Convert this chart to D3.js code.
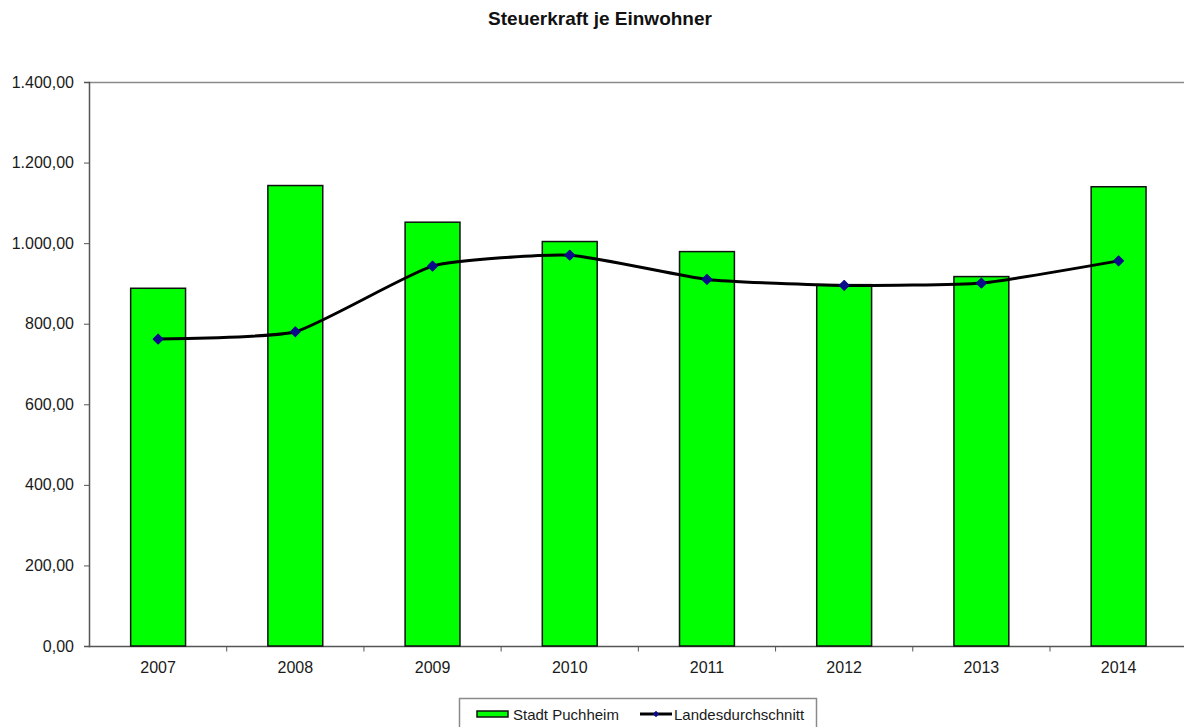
<!DOCTYPE html>
<html lang="de">
<head>
<meta charset="utf-8">
<title>Steuerkraft je Einwohner</title>
<script src="https://cdn.jsdelivr.net/npm/d3@7"></script>
<style>
  html, body { margin: 0; padding: 0; background: #ffffff; }
  svg { display: block; font-family: "Liberation Sans", Arial, sans-serif; }
</style>
</head>
<body>
<svg id="chart" width="1184" height="727"></svg>
<script>
// Steuerkraft je Einwohner (EUR), Stadt Puchheim vs. Landesdurchschnitt
const years = ["2007", "2008", "2009", "2010", "2011", "2012", "2013", "2014"];
const stadtPuchheim = [888, 1143, 1052, 1004, 979, 897, 917, 1140];
const landesdurchschnitt = [762, 780, 943, 970, 910, 895, 901, 956];
const yTicks = [0, 200, 400, 600, 800, 1000, 1200, 1400];

const svg = d3.select("#chart");

const plot = { left: 89.5, right: 1187.2, top: 82, bottom: 646 };

const x = d3.scaleBand()
  .domain(years)
  .range([plot.left, plot.right])
  .padding(0);

const y = d3.scaleLinear()
  .domain([0, 1400])
  .range([plot.bottom, plot.top]);

const de = d3.formatLocale({ decimal: ",", thousands: ".", grouping: [3], currency: ["", " €"] });
const fmt = de.format(",.2f");

// Title
svg.append("text")
  .attr("x", 600)
  .attr("y", 25)
  .attr("text-anchor", "middle")
  .attr("font-size", 19)
  .attr("font-weight", "bold")
  .attr("fill", "#111")
  .text("Steuerkraft je Einwohner");

// Plot area frame (top edge)
svg.append("line")
  .attr("x1", plot.left - 1).attr("x2", 1184)
  .attr("y1", plot.top + 0.5).attr("y2", plot.top + 0.5)
  .attr("stroke", "#8a8a8a")
  .attr("stroke-width", 1.5);

// Y axis
const yAxis = d3.axisLeft(y)
  .tickValues(yTicks)
  .tickSize(5)
  .tickPadding(10)
  .tickFormat(fmt);

const gy = svg.append("g")
  .attr("transform", `translate(${plot.left - 0.5},0)`)
  .call(yAxis);
gy.select(".domain").attr("stroke", "#555").attr("stroke-width", 1.5);
gy.selectAll(".tick line").attr("stroke", "#555");
gy.selectAll(".tick text")
  .attr("font-size", 16)
  .attr("font-family", "Liberation Sans, Arial, sans-serif")
  .attr("fill", "#1a1a1a");

// X axis: ticks at category boundaries, labels at centres
const gx = svg.append("g")
  .attr("transform", `translate(0,${plot.bottom + 0.5})`);
gx.append("line")
  .attr("x1", plot.left - 1).attr("x2", 1184)
  .attr("stroke", "#555").attr("stroke-width", 1.5);
gx.selectAll(".xtick")
  .data(years.slice(1))
  .join("line")
  .attr("class", "xtick")
  .attr("x1", d => x(d)).attr("x2", d => x(d))
  .attr("y1", 0).attr("y2", 5)
  .attr("stroke", "#555");
gx.selectAll(".xlabel")
  .data(years)
  .join("text")
  .attr("class", "xlabel")
  .attr("x", d => x(d) + x.bandwidth() / 2)
  .attr("y", 26)
  .attr("text-anchor", "middle")
  .attr("font-size", 16)
  .attr("fill", "#1a1a1a")
  .text(d => d);

// Bars
const barW = x.bandwidth() * 0.4;
svg.append("g")
  .selectAll("rect")
  .data(years.map((yr, i) => ({ yr, v: stadtPuchheim[i] })))
  .join("rect")
  .attr("x", d => x(d.yr) + (x.bandwidth() - barW) / 2)
  .attr("y", d => y(d.v))
  .attr("width", barW)
  .attr("height", d => y(0) - y(d.v))
  .attr("fill", "#00ff00")
  .attr("stroke", "#111")
  .attr("stroke-width", 1.5);

// Line (lightly smoothed) with markers
const pts = years.map((yr, i) => ({ yr, v: landesdurchschnitt[i] }));
const line = d3.line()
  .x(d => x(d.yr) + x.bandwidth() / 2)
  .y(d => y(d.v))
  .curve(d3.curveCardinal.tension(0.5));

svg.append("path")
  .datum(pts)
  .attr("d", line)
  .attr("fill", "none")
  .attr("stroke", "#000")
  .attr("stroke-width", 3);

// Square rotated 45° gives an even diamond
const marker = d3.symbol().type(d3.symbolSquare).size(50);
svg.append("g")
  .selectAll("path")
  .data(pts)
  .join("path")
  .attr("transform", d => `translate(${x(d.yr) + x.bandwidth() / 2},${y(d.v)}) rotate(45)`)
  .attr("d", marker)
  .attr("fill", "#0a0a8a")
  .attr("stroke", "#0a0a8a")
  .attr("stroke-width", 1)
  .attr("stroke-linejoin", "round");

// Legend
const legend = svg.append("g");
legend.append("rect")
  .attr("x", 459.5).attr("y", 698.5)
  .attr("width", 357).attr("height", 34)
  .attr("fill", "#fff")
  .attr("stroke", "#8a8a8a")
  .attr("stroke-width", 1.5);
legend.append("rect")
  .attr("x", 477).attr("y", 711)
  .attr("width", 31).attr("height", 6)
  .attr("fill", "#00ff00")
  .attr("stroke", "#111")
  .attr("stroke-width", 1.5);
legend.append("text")
  .attr("x", 513).attr("y", 719.5)
  .attr("font-size", 15)
  .attr("fill", "#1a1a1a")
  .text("Stadt Puchheim");
legend.append("line")
  .attr("x1", 640).attr("x2", 672)
  .attr("y1", 714).attr("y2", 714)
  .attr("stroke", "#000").attr("stroke-width", 3);
legend.append("path")
  .attr("transform", "translate(656,714) rotate(45)")
  .attr("d", d3.symbol().type(d3.symbolSquare).size(20))
  .attr("fill", "#0a0a8a");
legend.append("text")
  .attr("x", 674).attr("y", 719.5)
  .attr("font-size", 15)
  .attr("fill", "#1a1a1a")
  .text("Landesdurchschnitt");
</script>
</body>
</html>
